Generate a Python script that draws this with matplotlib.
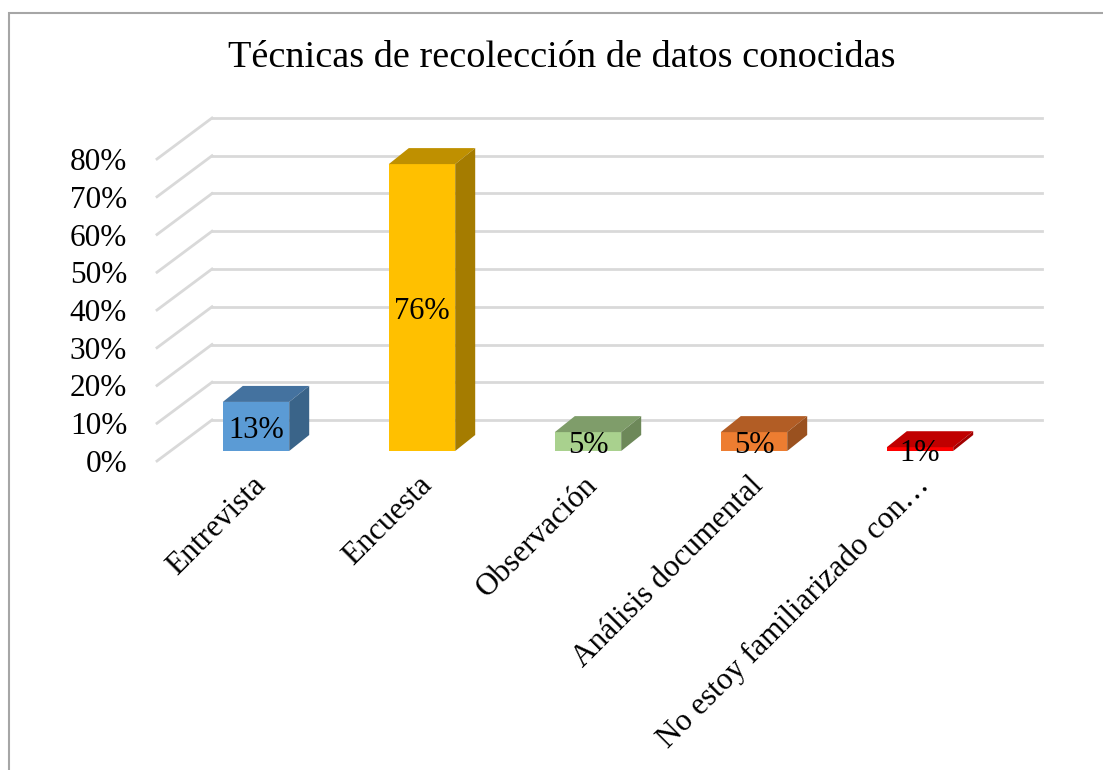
import matplotlib
matplotlib.use('Agg')
import matplotlib.pyplot as plt
import matplotlib.transforms as mtransforms
from matplotlib.patches import Polygon, Rectangle
import numpy as np

categories = ['Entrevista', 'Encuesta', 'Observación', 'Análisis documental',
              'No estoy familiarizado con…']
values = [0.13, 0.76, 0.05, 0.05, 0.01]
labels = ['13%', '76%', '5%', '5%', '1%']
yticks = [0, 0.1, 0.2, 0.3, 0.4, 0.5, 0.6, 0.7, 0.8]
yticklabels = ['0%', '10%', '20%', '30%', '40%', '50%', '60%', '70%', '80%']

front_col = ['#5B9BD5', '#FFC000', '#A9D18E', '#ED7D31', '#FF0000']
top_col = ['#44729F', '#BF9000', '#7F9D6A', '#B25D25', '#C00000']
side_col = ['#3A6489', '#A57C00', '#6D8859', '#9A511F', '#A30000']

plt.rcParams['font.family'] = ['Liberation Serif', 'DejaVu Serif']

DPI = 100
fig = plt.figure(figsize=(11.03, 7.70), dpi=DPI)
W, H = 1103, 770

# axes = front plane of the bars
ax = fig.add_axes([173 / W, (770 - 451) / H, 830 / W, 302 / H])
ax.set_xlim(-0.5, 4.5)
ax.set_ylim(0, 0.8)
ax.set_facecolor('none')
for s in ax.spines.values():
    s.set_visible(False)
ax.tick_params(length=0)


def shift(dx, dy):
    # pixel shift, dy positive = down on screen
    return mtransforms.ScaledTranslation(dx / DPI, -dy / DPI, fig.dpi_scale_trans)


# floor/back wall gridlines
grid_c = '#D9D9D9'
for t in yticks:
    ax.plot([-0.5, 4.5], [t, t], color=grid_c, lw=2, transform=ax.transData + shift(39, -31),
            zorder=0, clip_on=False)
    p = ax.transData.transform((-0.5, t))
    ax.add_line(plt.Line2D([p[0] - 16, p[0] + 39], [p[1] - 10, p[1] + 31], color=grid_c, lw=2,
                           transform=None, zorder=0, clip_on=False))

# bars
bw = 0.40
dx, dy = 20, 16
x = np.arange(len(categories))
ax.bar(x, values, width=bw, color=front_col, zorder=3, clip_on=False)
for i, v in enumerate(values):
    fl = ax.transData.transform((i - bw / 2, v))
    fr = ax.transData.transform((i + bw / 2, v))
    br0 = ax.transData.transform((i + bw / 2, 0))
    top = [fl, fr, fr + [dx, dy], fl + [dx, dy]]
    side = [br0, fr, fr + [dx, dy], br0 + [dx, dy]]
    ax.add_patch(Polygon(top, closed=True, transform=None, facecolor=top_col[i],
                         edgecolor='none', zorder=3, clip_on=False))
    ax.add_patch(Polygon(side, closed=True, transform=None, facecolor=side_col[i],
                         edgecolor='none', zorder=3, clip_on=False))
    ax.text(i, v / 2, labels[i], ha='center', va='center', fontsize=22, zorder=5,
            transform=ax.transData + shift(0, 4))

# y tick labels at front edge
ax.set_yticks(yticks)
ax.set_yticklabels(yticklabels, fontsize=22.5)
ax.tick_params(axis='y', pad=33)
for lab in ax.get_yticklabels():
    lab.set_transform(lab.get_transform() + shift(0, 10))

# category labels
ax.set_xticks(x)
ax.set_xticklabels(categories, fontsize=22.5, rotation=45, ha='right', rotation_mode='anchor')
ax.tick_params(axis='x', pad=0)
for lab in ax.get_xticklabels():
    lab.set_transform(lab.get_transform() + shift(-5, 20))

fig.text(562 / W, 1 - 58 / H, 'Técnicas de recolección de datos conocidas',
         ha='center', va='center', fontsize=27.5)

# chart border
fig.patches.append(Rectangle((9 / W, -0.1), 1.2, 1 - 13 / H + 0.1, transform=fig.transFigure,
                             fill=False, edgecolor='#A6A6A6', lw=1.5))

fig.savefig('out.png', dpi=DPI, facecolor='white')
